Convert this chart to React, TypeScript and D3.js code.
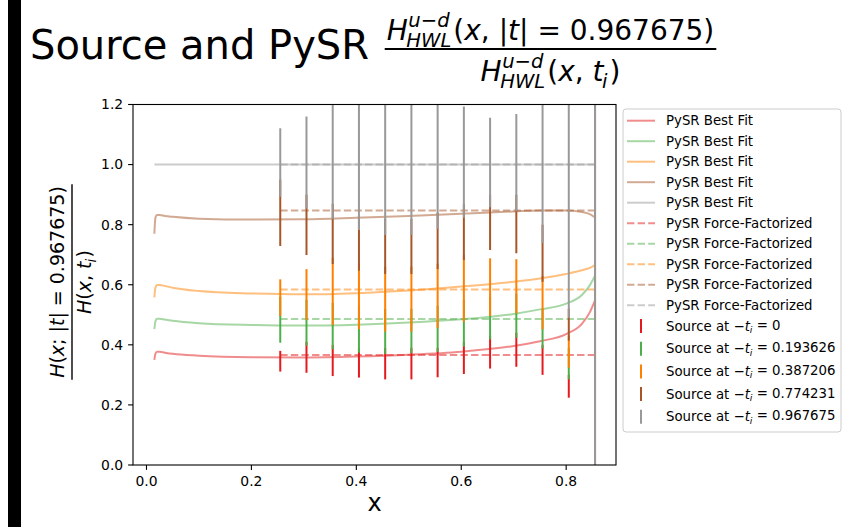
import React from 'react';
import * as d3 from 'd3';

const W = 844;
const H = 527;
const FONT = '"DejaVu Sans", sans-serif';

// ---------- data ----------
const seriesLabels = ['0', '0.193626', '0.387206', '0.774231', '0.967675'];
const seriesColors = ['#e41a1c', '#4daf4a', '#ff7f00', '#a65628', '#999999'];

const xTicks = [0, 0.2, 0.4, 0.6, 0.8];
const yTicks = [0, 0.2, 0.4, 0.6, 0.8, 1.0, 1.2];

// PySR best fit curves
const fitX = [0.015, 0.017, 0.02, 0.025, 0.035, 0.05, 0.1, 0.2, 0.3, 0.4, 0.5, 0.6, 0.7, 0.75, 0.8, 0.83, 0.845, 0.855];
const fitRed = [0.350, 0.370, 0.377, 0.377, 0.374, 0.370, 0.364, 0.359, 0.358, 0.361, 0.367, 0.377, 0.396, 0.412, 0.436, 0.470, 0.508, 0.548];
const fitGreen = [0.452, 0.478, 0.487, 0.487, 0.484, 0.480, 0.472, 0.466, 0.464, 0.467, 0.474, 0.485, 0.503, 0.518, 0.537, 0.566, 0.598, 0.630];
const fitOrange = [0.558, 0.590, 0.599, 0.599, 0.596, 0.590, 0.579, 0.571, 0.568, 0.572, 0.581, 0.594, 0.610, 0.621, 0.636, 0.648, 0.656, 0.665];
const fitBrown = [0.770, 0.822, 0.832, 0.832, 0.829, 0.826, 0.820, 0.817, 0.818, 0.823, 0.829, 0.836, 0.844, 0.847, 0.847, 0.842, 0.835, 0.824];
const fitGray = [1.0, 1.0, 1.0, 1.0, 1.0, 1.0, 1.0, 1.0, 1.0, 1.0, 1.0, 1.0, 1.0, 1.0, 1.0, 1.0, 1.0, 1.0];

// PySR force-factorized (constants)
const ffX = [0.255, 0.855];
const ffValues = [0.366, 0.486, 0.584, 0.847, 1.0];

// Source error bars (low / high)
const srcX = [0.255, 0.305, 0.355, 0.405, 0.455, 0.505, 0.555, 0.605, 0.655, 0.705, 0.755, 0.805, 0.855];
const redLo = [0.311, 0.307, 0.296, 0.291, 0.285, 0.285, 0.292, 0.303, 0.321, 0.327, 0.300, 0.224, -1];
const redHi = [0.380, 0.410, 0.400, 0.390, 0.390, 0.390, 0.390, 0.410, 0.430, 0.440, 0.400, 0.300, 3];
const greenLo = [0.407, 0.397, 0.385, 0.374, 0.370, 0.372, 0.377, 0.394, 0.418, 0.423, 0.388, 0.285, -1];
const greenHi = [0.560, 0.550, 0.540, 0.530, 0.520, 0.520, 0.530, 0.550, 0.560, 0.570, 0.520, 0.390, 3];
const orangeLo = [0.496, 0.483, 0.466, 0.452, 0.444, 0.444, 0.456, 0.477, 0.496, 0.505, 0.452, 0.324, -1];
const orangeHi = [0.618, 0.652, 0.690, 0.670, 0.660, 0.660, 0.670, 0.700, 0.688, 0.685, 0.630, 0.430, 3];
const brownLo = [0.729, 0.699, 0.669, 0.647, 0.636, 0.636, 0.652, 0.682, 0.716, 0.705, 0.610, 0.414, -1];
const brownHi = [0.950, 0.900, 0.870, 0.830, 0.820, 0.820, 0.840, 0.870, 0.900, 0.900, 0.800, 0.520, 3];
const grayLo = [0.893, 0.854, 0.818, 0.782, 0.766, 0.766, 0.786, 0.823, 0.858, 0.845, 0.738, 0.490, -1];
const grayHi = [1.121, 1.160, 1.250, 1.250, 1.250, 1.250, 1.250, 1.193, 1.156, 1.168, 1.250, 1.250, 3];

const fits = [fitRed, fitGreen, fitOrange, fitBrown, fitGray];
const srcLo = [redLo, greenLo, orangeLo, brownLo, grayLo];
const srcHi = [redHi, greenHi, orangeHi, brownHi, grayHi];

// ---------- math text helpers ----------
type Seg = { t: string; i?: boolean } | { sup?: Seg[]; sub?: Seg[] };

let _ctx: CanvasRenderingContext2D | null = null;
function tw(text: string, size: number, italic: boolean) {
  if (!_ctx) _ctx = document.createElement('canvas').getContext('2d');
  if (!_ctx) return text.length * size * 0.6;
  _ctx.font = `${italic ? 'oblique ' : ''}${size}px "DejaVu Sans"`;
  return _ctx.measureText(text).width;
}

type Item = { text: string; x: number; dy: number; size: number; italic: boolean };

function layoutRun(segs: Seg[], size: number, x0: number, dy: number, out: Item[]): number {
  let x = x0;
  for (const s of segs) {
    if ('t' in s) {
      out.push({ text: s.t, x, dy, size, italic: !!s.i });
      x += tw(s.t, size, !!s.i);
    } else {
      const ss = size * 0.7;
      let w1 = 0, w2 = 0;
      if (s.sup) w1 = layoutRun(s.sup, ss, x + size * 0.02, dy - size * 0.45, out) - x;
      if (s.sub) w2 = layoutRun(s.sub, ss, x - size * 0.05, dy + size * 0.24, out) - x;
      x += Math.max(w1, w2, 0) + size * 0.07;
    }
  }
  return x;
}

function MathText({ segs, size, cx, y }: { segs: Seg[]; size: number; cx: number; y: number }) {
  const items: Item[] = [];
  const w = layoutRun(segs, size, 0, 0, items);
  return (
    <g transform={`translate(${cx - w / 2},${y})`}>
      {items.map((it, k) => (
        <text key={k} x={it.x} y={it.dy} fontSize={it.size} fontStyle={it.italic ? 'oblique' : 'normal'}
          fontFamily={FONT} fill="#000" style={{ whiteSpace: 'pre' }}>{it.text}</text>
      ))}
    </g>
  );
}
function mathWidth(segs: Seg[], size: number) {
  const items: Item[] = [];
  return layoutRun(segs, size, 0, 0, items);
}

const hwlScripts: Seg = { sup: [{ t: 'u', i: true }, { t: '\u2212' }, { t: 'd', i: true }], sub: [{ t: 'HWL', i: true }] };
const titleNum: Seg[] = [{ t: 'H', i: true }, hwlScripts, { t: '(' }, { t: 'x', i: true }, { t: ', |' }, { t: 't', i: true }, { t: '| = 0.967675)' }];
const titleDen: Seg[] = [{ t: 'H', i: true }, hwlScripts, { t: '(' }, { t: 'x', i: true }, { t: ', ' }, { t: 't', i: true }, { sub: [{ t: 'i', i: true }] }, { t: ')' }];
const ylabNum: Seg[] = [{ t: 'H', i: true }, { t: '(' }, { t: 'x', i: true }, { t: '; |' }, { t: 't', i: true }, { t: '| = 0.967675)' }];
const ylabDen: Seg[] = [{ t: 'H', i: true }, { t: '(' }, { t: 'x', i: true }, { t: ', ' }, { t: 't', i: true }, { sub: [{ t: 'i', i: true }] }, { t: ')' }];

// ---------- component ----------
export default function App() {
  const L = 133, R = 616, T = 104.5, B = 465;
  const x = d3.scaleLinear().domain([-0.0257, 0.895]).range([L, R]);
  const y = d3.scaleLinear().domain([0, 1.2]).range([B, T]);

  const line = d3.line<[number, number]>().x(d => x(d[0])).y(d => y(d[1])).curve(d3.curveMonotoneX);

  const titleFracW = Math.max(mathWidth(titleNum, 28), mathWidth(titleDen, 28));
  const ylabW = Math.max(mathWidth(ylabNum, 19), mathWidth(ylabDen, 19));
  const titleCx = 550.5;

  const legendRows1 = [0, 1, 2, 3, 4].map(i => ({ y: 120.7 + 20.5 * i, c: seriesColors[i], dash: false, label: 'PySR Best Fit' }));
  const legendRows2 = [0, 1, 2, 3, 4].map(i => ({ y: 120.7 + 20.5 * (i + 5), c: seriesColors[i], dash: true, label: 'PySR Force-Factorized' }));
  const legendSrc = [0, 1, 2, 3, 4].map(i => ({ y: 326 + 22.7 * i, c: seriesColors[i], label: seriesLabels[i] }));

  return (
    <svg width={W} height={H} style={{ position: 'absolute', left: 0, top: 0, background: '#fff' }}>
      <defs>
        <clipPath id="plotclip"><rect x={L} y={T} width={R - L} height={B - T} /></clipPath>
      </defs>
      <rect x={0} y={0} width={W} height={H} fill="#fff" />
      <rect x={8} y={0} width={13} height={H} fill="#000" />

      {/* title */}
      <text x={30} y={59} fontSize={40} fontFamily={FONT} fill="#000">Source and PySR</text>
      <MathText segs={titleNum} size={28} cx={titleCx} y={40} />
      <line x1={titleCx - titleFracW / 2 - 2} x2={titleCx + titleFracW / 2 + 2} y1={49} y2={49} stroke="#000" strokeWidth={2} />
      <MathText segs={titleDen} size={28} cx={titleCx} y={81} />

      {/* plot */}
      <g clipPath="url(#plotclip)">
        {fits.map((f, i) => (
          <path key={'fit' + i} d={line(fitX.map((v, k) => [v, f[k]] as [number, number])) || ''} fill="none"
            stroke={seriesColors[i]} strokeOpacity={0.5} strokeWidth={2} />
        ))}
        {ffValues.map((v, i) => (
          <line key={'ff' + i} x1={x(ffX[0])} x2={x(ffX[1])} y1={y(v)} y2={y(v)} stroke={seriesColors[i]}
            strokeOpacity={0.5} strokeWidth={2} strokeDasharray="7.4,3.2" />
        ))}
        {srcLo.map((lo, i) => (
          <g key={'src' + i}>
            {srcX.map((xv, k) => (
              <line key={k} x1={x(xv)} x2={x(xv)} y1={y(lo[k])} y2={y(srcHi[i][k])} stroke={seriesColors[i]} strokeWidth={2} />
            ))}
          </g>
        ))}
      </g>

      {/* axes */}
      <rect x={L} y={T} width={R - L} height={B - T} fill="none" stroke="#000" strokeWidth={1.1} />
      {xTicks.map(t => (
        <g key={'xt' + t}>
          <line x1={x(t)} x2={x(t)} y1={B} y2={B + 4.9} stroke="#000" strokeWidth={1.1} />
          <text x={x(t)} y={B + 20.5} fontSize={13.9} fontFamily={FONT} textAnchor="middle" fill="#000">{t.toFixed(1)}</text>
        </g>
      ))}
      {yTicks.map(t => (
        <g key={'yt' + t}>
          <line x1={L - 4.9} x2={L} y1={y(t)} y2={y(t)} stroke="#000" strokeWidth={1.1} />
          <text x={L - 9.8} y={y(t)} dy="0.35em" fontSize={13.9} fontFamily={FONT} textAnchor="end" fill="#000">{t.toFixed(1)}</text>
        </g>
      ))}
      <text x={(L + R) / 2} y={511} fontSize={24} fontFamily={FONT} textAnchor="middle" fill="#000">x</text>

      {/* y label */}
      <g transform="translate(72,282) rotate(-90)">
        <MathText segs={ylabNum} size={19} cx={0} y={-8} />
        <line x1={-ylabW / 2 - 2} x2={ylabW / 2 + 2} y1={0} y2={0} stroke="#000" strokeWidth={1.4} />
        <MathText segs={ylabDen} size={19} cx={0} y={19} />
      </g>

      {/* legend */}
      <rect x={623} y={109} width={218} height={323} rx={3} fill="#fff" fillOpacity={0.8} stroke="#cccccc" strokeWidth={1} />
      {[...legendRows1, ...legendRows2].map((r, k) => (
        <g key={'lg' + k}>
          <line x1={627} x2={655} y1={r.y} y2={r.y} stroke={r.c} strokeOpacity={0.5} strokeWidth={2}
            strokeDasharray={r.dash ? '7.4,3.2' : undefined} />
          <text x={666} y={r.y} dy="0.35em" fontSize={13.3} fontFamily={FONT} fill="#000">{r.label}</text>
        </g>
      ))}
      {legendSrc.map((r, k) => (
        <g key={'ls' + k}>
          <line x1={641} x2={641} y1={r.y - 7} y2={r.y + 7} stroke={r.c} strokeWidth={2} />
          <text x={666} y={r.y} dy="0.35em" fontSize={13.3} fontFamily={FONT} fill="#000" style={{ whiteSpace: 'pre' }}>
            <tspan>Source at </tspan>
            <tspan>{'\u2212'}</tspan>
            <tspan fontStyle="oblique">t</tspan>
            <tspan fontStyle="oblique" fontSize={9.3} dy="0.25em">i</tspan>
            <tspan dy="-0.25em">{' = ' + r.label}</tspan>
          </text>
        </g>
      ))}
    </svg>
  );
}
